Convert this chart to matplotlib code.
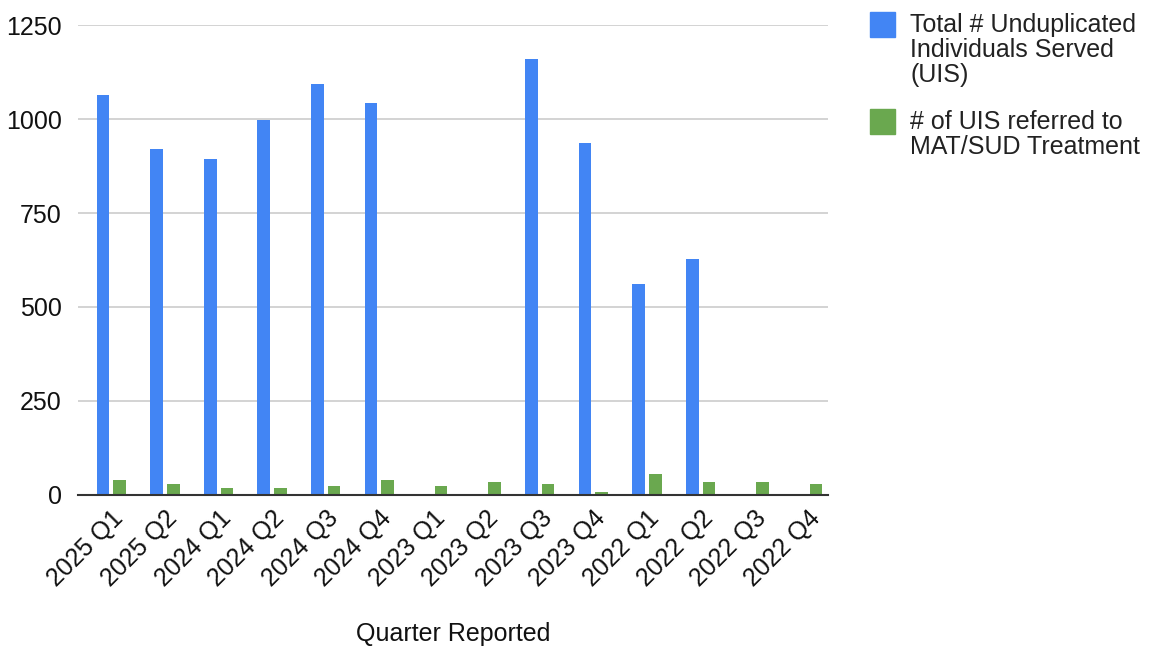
import matplotlib
matplotlib.use("Agg")
import matplotlib.pyplot as plt
from matplotlib.patches import Rectangle
import numpy as np

plt.rcParams['font.family'] = ['Liberation Sans', 'DejaVu Sans']

quarters = ['2025 Q1', '2025 Q2', '2024 Q1', '2024 Q2', '2024 Q3', '2024 Q4',
            '2023 Q1', '2023 Q2', '2023 Q3', '2023 Q4', '2022 Q1', '2022 Q2',
            '2022 Q3', '2022 Q4']
uis_served = [1064, 920, 894, 997, 1093, 1043, 0, 0, 1160, 936, 561, 628, 0, 0]
uis_referred = [40, 29, 18, 18, 23, 40, 23, 34, 29, 7, 56, 34, 34, 29]

series_names = ['Total # Unduplicated\nIndividuals Served\n(UIS)',
                '# of UIS referred to\nMAT/SUD Treatment']
colors = ['#4285F4', '#6AA84F']

fig = plt.figure(figsize=(11.5, 6.5), dpi=100)
ax = fig.add_axes([0.068, 0.2385, 0.652, 0.723])

x = np.arange(len(quarters))
w = 0.235
ax.bar(x - 0.155, uis_served, width=w, color=colors[0], zorder=3)
ax.bar(x + 0.155, uis_referred, width=w, color=colors[1], zorder=3)

ax.set_xlim(-0.62, 13.38)
ax.set_ylim(0, 1250)
ax.set_yticks([0, 250, 500, 750, 1000, 1250])
ax.yaxis.grid(True, color='#cccccc', linewidth=1.2, zorder=0)
ax.set_axisbelow(True)

for s in ['top', 'right', 'left']:
    ax.spines[s].set_visible(False)
ax.spines['bottom'].set_color('#333333')
ax.spines['bottom'].set_linewidth(1.5)
ax.spines['bottom'].set_zorder(4)

ax.set_xticks(x)
ax.set_xticklabels(quarters, rotation=45, ha='right', rotation_mode='anchor',
                   fontsize=18, color='#111111')
ax.tick_params(axis='x', length=0, pad=8)
ax.tick_params(axis='y', length=0, pad=12, labelsize=18, labelcolor='#111111')

ax.set_xlabel('Quarter Reported', fontsize=18, color='#111111', labelpad=22)

# legend: swatch aligned with first line of each label
legend_tops = [12, 109]
for name, col, top in zip(series_names, colors, legend_tops):
    fig.patches.append(Rectangle((870 / 1150, 1 - (top + 25) / 650), 25 / 1150, 25 / 650,
                                 transform=fig.transFigure, color=col))
    fig.text(910 / 1150, 1 - (top + 1) / 650, name, fontsize=18, color='#222222',
             va='top', ha='left', linespacing=1.05)

fig.savefig('out.png', dpi=100)
